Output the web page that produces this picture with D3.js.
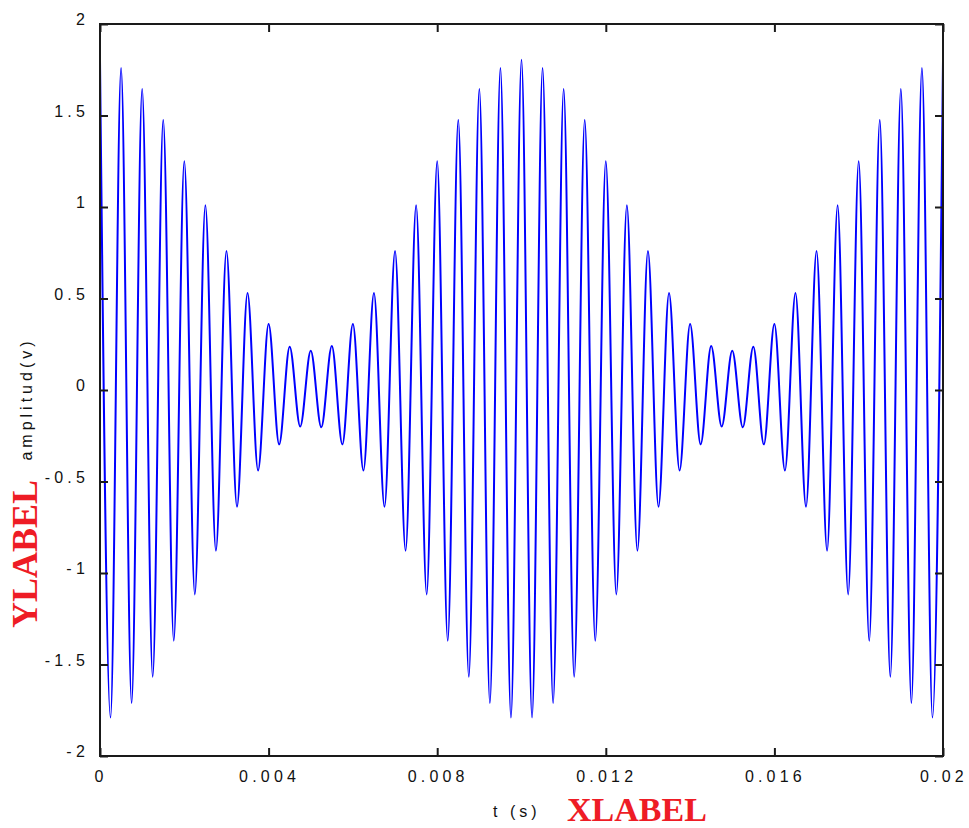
<!DOCTYPE html>
<html>
<head>
<meta charset="utf-8">
<script src="https://cdn.jsdelivr.net/npm/d3@7"></script>
<style>
  body { margin: 0; background: #fff; }
  svg { display: block; }
  .tick-label { font-family: "Liberation Sans", Arial, sans-serif; font-size: 16px; fill: #111; letter-spacing: 4.2px; }
  .small-label { font-family: "Liberation Sans", Arial, sans-serif; font-size: 16px; fill: #111; letter-spacing: 4px; }
  .red-label { font-family: "Liberation Serif", "Times New Roman", serif; font-weight: bold; fill: #ee1c25; }
</style>
</head>
<body>
<div id="chart"></div>
<script>
const peaks = [1.80, 1.76, 1.645, 1.475, 1.25, 1.01, 0.76, 0.53, 0.36, 0.237, 0.215,
               0.24, 0.36, 0.53, 0.76, 1.01, 1.25, 1.475, 1.645, 1.76, 1.805,
               1.76, 1.645, 1.475, 1.25, 1.01, 0.76, 0.53, 0.36, 0.24, 0.215,
               0.237, 0.36, 0.53, 0.76, 1.01, 1.25, 1.475, 1.645, 1.76, 1.80];
// troughs between consecutive peaks
const troughs = [-1.79, -1.71, -1.567, -1.37, -1.117, -0.878, -0.638, -0.44, -0.297, -0.2,
                 -0.204, -0.297, -0.44, -0.638, -0.878, -1.117, -1.37, -1.567, -1.71, -1.79,
                 -1.79, -1.71, -1.567, -1.37, -1.117, -0.878, -0.638, -0.44, -0.297, -0.2,
                 -0.204, -0.297, -0.44, -0.638, -0.878, -1.117, -1.37, -1.567, -1.71, -1.79];
const halfPeriod = 0.00025; // spacing between a peak and the next trough (s)

const xTicks = [0, 0.004, 0.008, 0.012, 0.016, 0.02];
const xTickLabels = ['0', '0.004', '0.008', '0.012', '0.016', '0.02'];
const yTicks = [-2, -1.5, -1, -0.5, 0, 0.5, 1, 1.5, 2];
const yTickLabels = ['-2', '-1.5', '-1', '-0.5', '0', '0.5', '1', '1.5', '2'];

const width = 969, height = 828;
const margin = { top: 24, right: 26, bottom: 72, left: 100 };

// merge peaks and troughs into one sample list
let samples = [];
peaks.forEach((p, i) => {
    samples.push({ t: 2 * i * halfPeriod, v: p });
    if (i < troughs.length) samples.push({ t: (2 * i + 1) * halfPeriod, v: troughs[i] });
});

const svg = d3.select('#chart').append('svg')
    .attr('width', width)
    .attr('height', height);

const x = d3.scaleLinear().domain([0, 0.02]).range([margin.left, width - margin.right]);
const y = d3.scaleLinear().domain([-2, 2]).range([height - margin.bottom, margin.top]);

// signal line
const line = d3.line()
    .x(d => x(d.t))
    .y(d => y(d.v))
    .curve(d3.curveMonotoneX);

svg.append('path')
    .datum(samples)
    .attr('fill', 'none')
    .attr('stroke', '#0000ff')
    .attr('stroke-width', 2)
    .attr('d', line);

// box with inward ticks on every side
const tickLen = 8;
const axisColor = '#1a1a1a';

svg.append('g')
    .attr('transform', `translate(0,${y(-2)})`)
    .call(d3.axisBottom(x).tickValues(xTicks).tickSize(-tickLen).tickFormat(''))
    .call(g => g.select('.domain').remove());
svg.append('g')
    .attr('transform', `translate(0,${y(2)})`)
    .call(d3.axisTop(x).tickValues(xTicks).tickSize(-tickLen).tickFormat(''))
    .call(g => g.select('.domain').remove());
svg.append('g')
    .attr('transform', `translate(${x(0)},0)`)
    .call(d3.axisLeft(y).tickValues(yTicks).tickSize(-tickLen).tickFormat(''))
    .call(g => g.select('.domain').remove());
svg.append('g')
    .attr('transform', `translate(${x(0.02)},0)`)
    .call(d3.axisRight(y).tickValues(yTicks).tickSize(-tickLen).tickFormat(''))
    .call(g => g.select('.domain').remove());

svg.selectAll('.tick line')
    .attr('stroke', axisColor)
    .attr('stroke-width', 2);

svg.append('rect')
    .attr('x', x(0))
    .attr('y', y(2))
    .attr('width', x(0.02) - x(0))
    .attr('height', y(-2) - y(2))
    .attr('fill', 'none')
    .attr('stroke', axisColor)
    .attr('stroke-width', 2);

// tick labels
svg.selectAll('.xlab')
    .data(xTicks)
    .enter()
    .append('text')
    .attr('class', 'tick-label')
    .attr('x', d => x(d) + 1)
    .attr('y', 782)
    .attr('text-anchor', 'middle')
    .text((d, i) => xTickLabels[i]);

svg.selectAll('.ylab')
    .data(yTicks)
    .enter()
    .append('text')
    .attr('class', 'tick-label')
    .attr('x', 89)
    .attr('y', d => y(d) + 1)
    .attr('text-anchor', 'end')
    .text((d, i) => yTickLabels[i]);

// axis titles
svg.append('text')
    .attr('class', 'small-label')
    .attr('x', 493)
    .attr('y', 817)
    .text('t (s)');

svg.append('text')
    .attr('class', 'red-label')
    .attr('x', 567)
    .attr('y', 821)
    .style('font-size', '34px')
    .text('XLABEL');

svg.append('text')
    .attr('class', 'small-label')
    .attr('transform', 'translate(32,399) rotate(-90)')
    .attr('text-anchor', 'middle')
    .text('amplitud(v)');

svg.append('text')
    .attr('class', 'red-label')
    .attr('transform', 'translate(37,554) rotate(-90)')
    .attr('text-anchor', 'middle')
    .style('font-size', '36px')
    .text('YLABEL');
</script>
</body>
</html>
